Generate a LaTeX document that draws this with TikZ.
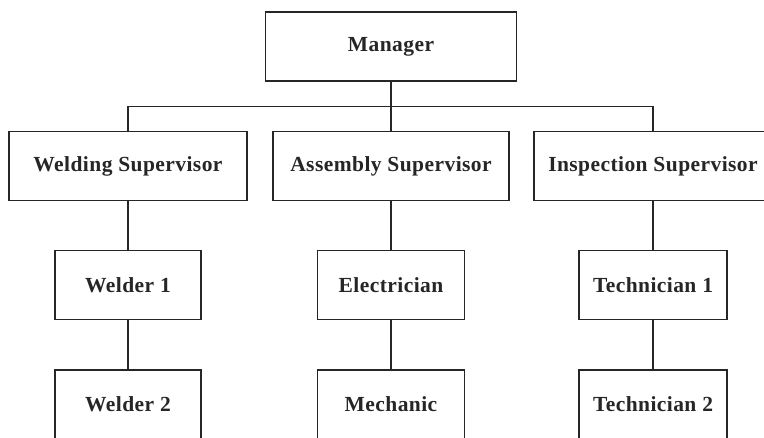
\documentclass[tikz,border=0pt]{standalone}
\usepackage{fontspec}
\setmainfont{Liberation Serif}[LetterSpace=2]
\begin{document}
\begin{tikzpicture}[x=1pt,y=-1pt,
  box/.style={draw=ink, line width=1.6pt, fill=white, inner sep=0pt,
    minimum height=69pt, text=ink,
    font=\fontsize{21.5}{24}\selectfont\bfseries},
  link/.style={draw=ink, line width=1.6pt}]
\definecolor{ink}{HTML}{262626}
\useasboundingbox (0,0) rectangle (764,438);
\clip (0,0) rectangle (764,438);
\fill[white] (0,0) rectangle (764,438);

% top level
\node[box, minimum width=251pt] (mgr) at (391,46.5) {Manager};

% supervisors
\node[box, minimum width=238pt] (ws) at (128,166) {Welding Supervisor};
\node[box, minimum width=236pt] (as) at (391,166) {Assembly Supervisor};
\node[box, minimum width=238pt] (is) at (653,166) {Inspection Supervisor};

% workers
\node[box, minimum width=146pt] (w1) at (128,285) {Welder 1};
\node[box, minimum width=147pt] (el) at (391,285) {Electrician};
\node[box, minimum width=148pt] (t1) at (653,285) {Technician 1};
\node[box, minimum width=146pt] (w2) at (128,404.5) {Welder 2};
\node[box, minimum width=147pt] (mc) at (391,404.5) {Mechanic};
\node[box, minimum width=148pt] (t2) at (653,404.5) {Technician 2};

% branch line
\coordinate (bus) at (0,106.5);
\draw[link] (mgr.south) -- (mgr.south |- bus);
\draw[link] (ws.north) -- (ws.north |- bus) -- (is.north |- bus) -- (is.north);
\draw[link] (as.north) -- (as.north |- bus);

% chains
\draw[link] (ws.south) -- (w1.north);
\draw[link] (w1.south) -- (w2.north);
\draw[link] (as.south) -- (el.north);
\draw[link] (el.south) -- (mc.north);
\draw[link] (is.south) -- (t1.north);
\draw[link] (t1.south) -- (t2.north);
\end{tikzpicture}
\end{document}
